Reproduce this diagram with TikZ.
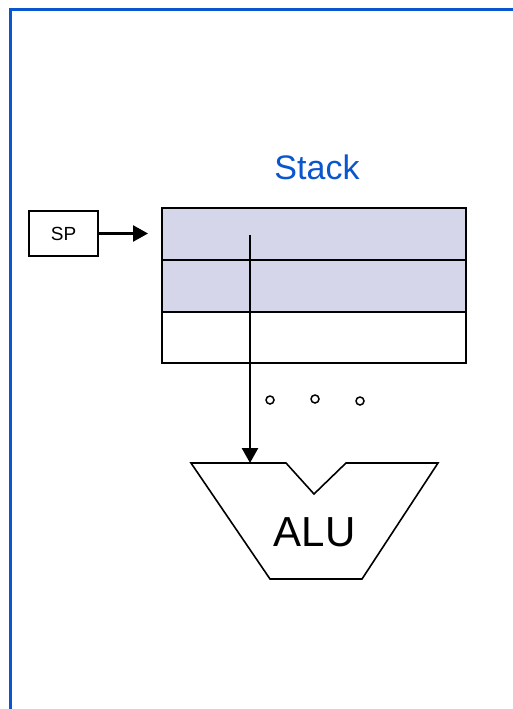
\documentclass[tikz,border=0pt]{standalone}
\usepackage{fontspec}
\setmainfont{Liberation Sans}
\usetikzlibrary{arrows.meta}
\definecolor{frameblue}{HTML}{0A56CC}
\definecolor{cellfill}{HTML}{D6D6EB}
\definecolor{titleblue}{HTML}{0A56CC}
\begin{document}
\begin{tikzpicture}[x=1pt,y=-1pt,
  cell/.style={draw=black,line width=2.2pt,anchor=north west,minimum width=304pt,minimum height=52pt,inner sep=0pt},
  spbox/.style={draw=black,line width=1.5pt,minimum width=69pt,minimum height=45pt,inner sep=0pt,font=\fontsize{19}{19}\selectfont},
  arr/.style={line width=2.5pt,-{Triangle[length=15pt,width=16pt]}},
  dotc/.style={draw=black,line width=1.5pt,fill=white},
  alu/.style={draw=black,line width=1.6pt}]
\useasboundingbox (0,0) rectangle (512,709);
\fill[white] (0,0) rectangle (512,709);
\draw[frameblue,line width=3pt] (10.5,712) -- (10.5,9.5) -- (515,9.5);
\node[font=\fontsize{34}{34}\selectfont,text=titleblue] (title) at (317,167) {Stack};
\node[cell,fill=cellfill] (c1) at (161,207) {};
\node[cell,fill=cellfill] (c2) at (161,259) {};
\node[cell,minimum height=51pt] (c3) at (161,311) {};
\node[spbox] (sp) at (63.5,233.5) {SP};
\coordinate (spend) at (148,233.5);
\draw[arr] (sp.east) -- (spend);
\coordinate (src) at (250,235);
\coordinate (alutop) at (250,463);
\draw[alu] (191,463) -- (286,463) -- (314,494) -- (346,463) -- (438,463) -- (362,579) -- (270,579) -- cycle;
\node[font=\fontsize{42}{42}\selectfont] (alu) at (314.5,532) {ALU};
\draw[arr] (src) -- (alutop);
\node[dotc,circle,minimum size=8pt,inner sep=0pt] (d1) at (270,400) {};
\node[dotc,circle,minimum size=8pt,inner sep=0pt] (d2) at (315,399) {};
\node[dotc,circle,minimum size=8pt,inner sep=0pt] (d3) at (360,401) {};
\end{tikzpicture}
\end{document}
